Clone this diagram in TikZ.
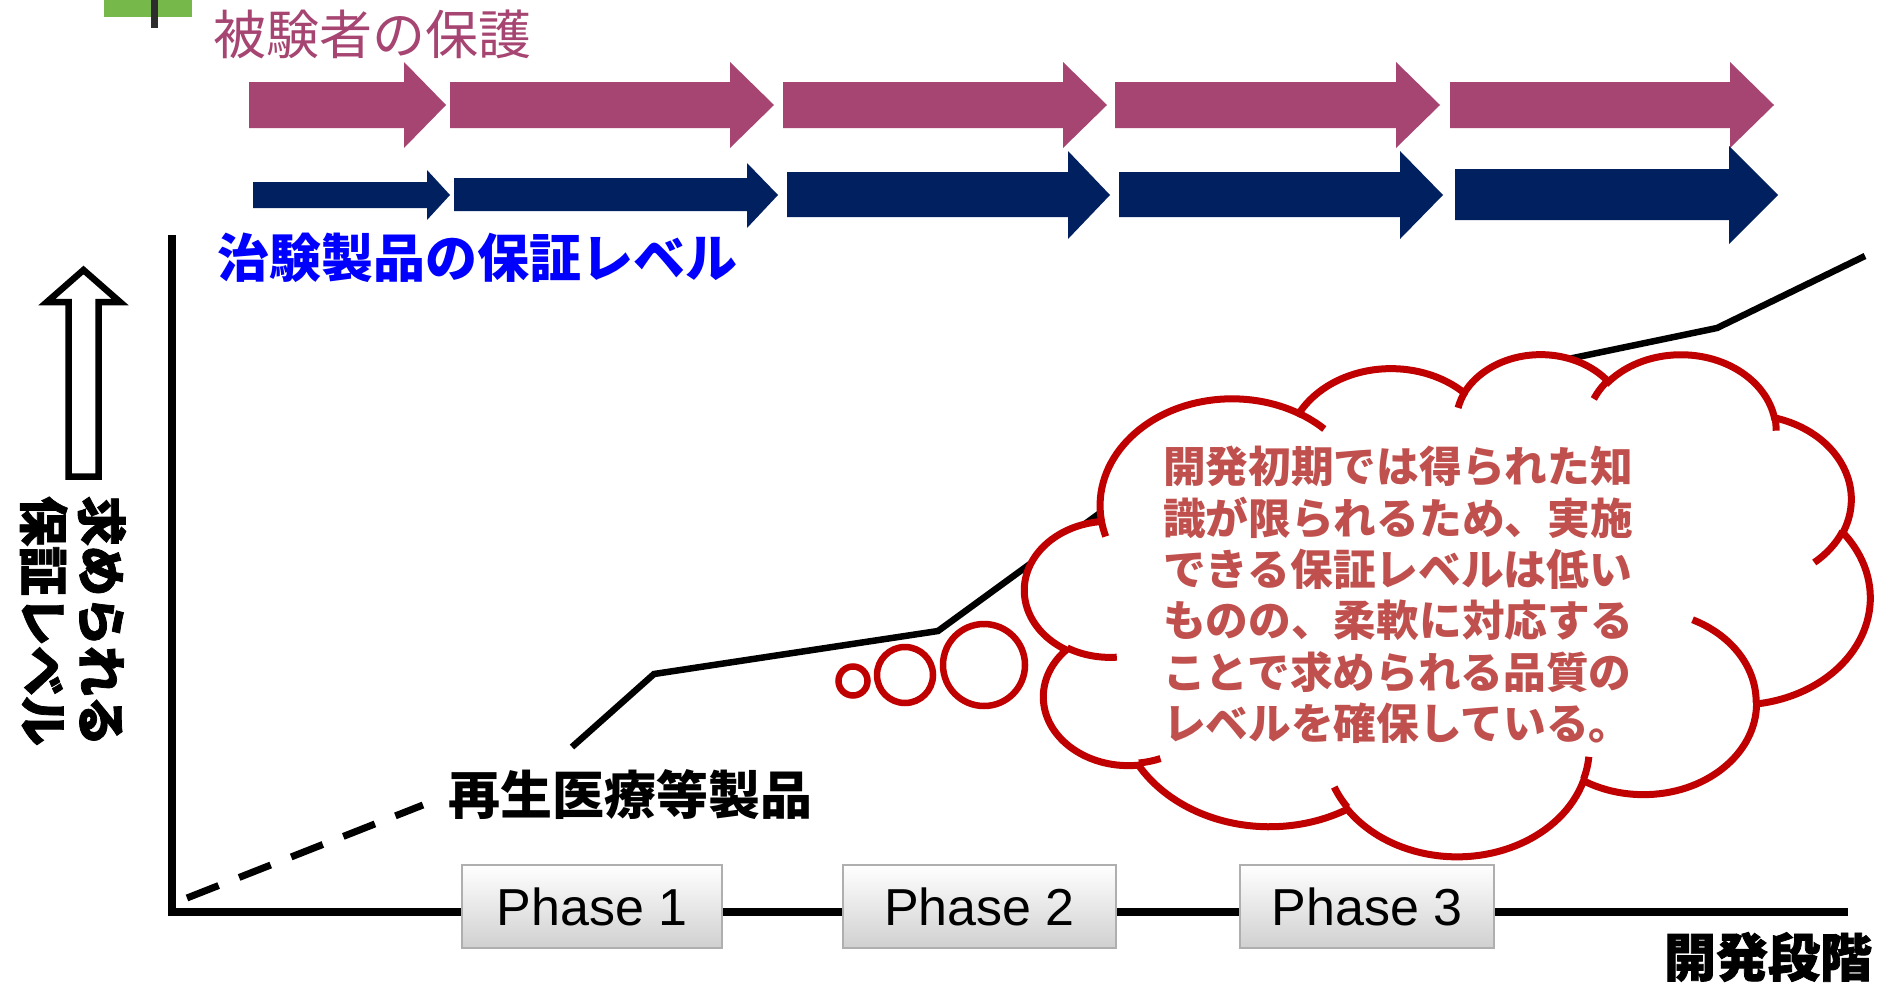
\documentclass[tikz,border=0pt]{standalone}
\usepackage{fontspec}
\setmainfont{Liberation Sans}
\newfontfamily\jp{Noto Sans CJK JP}
\newfontfamily\jpheavy{Noto Sans CJK JP}[BoldFeatures={FakeBold=1.5}]
\definecolor{plum}{RGB}{166,68,114}
\definecolor{navyc}{RGB}{0,32,96}
\definecolor{txtblue}{RGB}{0,0,255}
\definecolor{cloudred}{RGB}{192,0,0}
\definecolor{cloudtxt}{RGB}{192,80,77}
\definecolor{leafgreen}{RGB}{118,184,74}
\definecolor{bargray}{RGB}{45,45,45}
\definecolor{boxline}{RGB}{175,175,175}
\definecolor{boxbot}{RGB}{208,208,208}
\def\cX{1025}\def\cY{353}\def\cW{845}\def\cH{502}
\newcommand\ooarc[4]{arc[x radius={#1/432/100*\cW*1pt}, y radius={#2/432/100*\cH*1pt}, start angle={-atan2(#1/1000*sin(#3),#2/1000*cos(#3))}, delta angle={-mod(atan2(#1/1000*sin(#3+#4),#2/1000*cos(#3+#4))-atan2(#1/1000*sin(#3),#2/1000*cos(#3))+720,360)}]}
% point in OOXML path space, given in hundreds (0..432)
\newcommand\oopt[2]{({\cX+#1/432*\cW},{\cY+#2/432*\cH})}
\newcommand\fatarrow[9]{\fill[#9] (#1,#4) -- (#2,#4) -- (#2,#6) -- (#3,#8) -- (#2,#7) -- (#2,#5) -- (#1,#5) -- cycle;}
\begin{document}
\begin{tikzpicture}[x=1pt,y=-1pt,
  axisline/.style={line width=8pt, line join=miter},
  curveline/.style={line width=6.5pt, line join=miter},
  bubble/.style={draw=cloudred, line width=6.5pt, fill=white},
  cloudline/.style={draw=cloudred, line width=7pt},
  phasebox/.style={draw=boxline, line width=1.5pt, top color=white, bottom color=boxbot, minimum height=83pt, inner sep=0pt, font=\fontsize{52}{60}\selectfont}]
\useasboundingbox (0,0) rectangle (1888,985);
\fill[white] (0,0) rectangle (1888,985);
% top-left fragment
\fill[leafgreen] (104,0) rectangle (192,17);
\fill[bargray] (151,0) rectangle (158,28);
% titles
\node[font=\jp\fontsize{53}{60}\selectfont, text=plum, inner sep=0pt] (protect) at (372,34) {被験者の保護};
\node[font=\jp\bfseries\fontsize{52}{60}\selectfont, text=txtblue, inner sep=0pt] (quality) at (477,258) {治験製品の保証レベル};
% block arrows
\fatarrow{249}{404}{446}{82}{128}{62}{148}{105}{plum}
\fatarrow{450}{730}{774}{82}{128}{62}{148}{105}{plum}
\fatarrow{783}{1063}{1107}{82}{128}{62}{148}{105}{plum}
\fatarrow{1115}{1396}{1440}{82}{128}{62}{148}{105}{plum}
\fatarrow{1450}{1730}{1774}{82}{128}{62}{148}{105}{plum}
\fatarrow{253}{427}{450}{182}{208}{170}{220}{195}{navyc}
\fatarrow{454}{747}{778}{178}{211}{163}{228}{195}{navyc}
\fatarrow{787}{1068}{1110}{172}{217}{151}{239}{195}{navyc}
\fatarrow{1119}{1400}{1443}{172}{217}{151}{239}{195}{navyc}
\fatarrow{1455}{1729}{1778}{169}{220}{146}{244}{195}{navyc}
% hollow up arrow
\draw[line width=6.5pt, line join=miter, fill=white] (83.5,270) -- (120,302) -- (98.5,302) -- (98.5,476.5) -- (68.5,476.5) -- (68.5,302) -- (47,302) -- cycle;
\node[rotate=-90, font=\jpheavy\bfseries\fontsize{50}{58}\selectfont, align=left, inner sep=0pt] (ylabel) at (73,621) {求められる\\保証レベル};
% axes
\coordinate (ytop) at (172,235);
\coordinate (origin) at (172,912);
\coordinate (xend) at (1848,912);
\draw[axisline] (ytop) -- (origin) -- (xend);
\node[font=\jpheavy\bfseries\fontsize{52}{60}\selectfont, inner sep=0pt] (xlabel) at (1768,957) {開発段階};
% curve
\coordinate (d0) at (187,898);
\coordinate (d1) at (423,805);
\coordinate (c0) at (572,747);
\coordinate (c1) at (654,674);
\coordinate (c2) at (938,631);
\coordinate (c3) at (1100,513);
\coordinate (c4) at (1573,358);
\coordinate (c5) at (1717,328);
\coordinate (c6) at (1865,256);
\draw[curveline, line width=7pt, dash pattern=on 34pt off 22pt] (d0) -- (d1);
\draw[curveline] (c0) -- (c1) -- (c2) -- (c3) -- (c4) -- (c5) -- (c6);
\node[font=\jp\bfseries\fontsize{52}{60}\selectfont, inner sep=0pt] (prodlabel) at (630,795) {再生医療等製品};
% phase boxes
\node[phasebox, minimum width=260pt] (ph1) at (592,906.5) {Phase 1};
\node[phasebox, minimum width=273pt] (ph2) at (979.5,906.5) {Phase 2};
\node[phasebox, minimum width=254pt] (ph3) at (1367,906.5) {Phase 3};
% cloud callout
\draw[cloudline, fill=white] \oopt{39.00}{143.70}
  \ooarc{6753}{9190}{-190.4875}{123.7805}
  \ooarc{5333}{7267}{-144.1024}{89.9452}
  \ooarc{4365}{5945}{-145.8079}{99.7230}
  \ooarc{4857}{6595}{-130.9861}{117.2417}
  \ooarc{5333}{7273}{-78.7089}{109.0269}
  \ooarc{6775}{9220}{-46.2673}{130.2690}
  \ooarc{5785}{7867}{0.6250}{114.0333}
  \ooarc{6752}{9215}{22.4516}{115.1726}
  \ooarc{7720}{10543}{66.2426}{75.7110}
  \ooarc{4360}{5918}{-274.9421}{146.7356}
  \ooarc{4345}{5945}{-246.8285}{152.5189} -- cycle;
\draw[cloudline]
  \oopt{46.93}{261.77} \ooarc{4345}{5945}{86.7420}{26.4295}
  \oopt{69.28}{348.99} \ooarc{4360}{5918}{73.6105}{11.4475}
  \oopt{164.78}{390.90} \ooarc{6752}{9215}{137.6242}{14.0811}
  \oopt{288.27}{347.51} \ooarc{6752}{9215}{6.4533}{15.9984}
  \oopt{341.29}{229.54} \ooarc{5785}{7867}{-70.2924}{70.9174}
  \oopt{417.98}{153.54} \ooarc{5333}{7273}{30.3180}{27.7515}
  \oopt{383.24}{54.26} \ooarc{4857}{6595}{-13.7443}{14.8589}
  \oopt{290.78}{39.52} \ooarc{4857}{6595}{-149.1815}{18.1954}
  \oopt{221.41}{47.20} \ooarc{4365}{5945}{-163.4943}{17.6864}
  \oopt{140.00}{51.92} \ooarc{6753}{9190}{-66.7070}{12.3194}
  \oopt{41.27}{157.89} \ooarc{6753}{9190}{157.6544}{11.8582};
\draw[bubble] (853,681) circle[radius=14.5pt];
\draw[bubble] (905,675) circle[radius=28pt];
\draw[bubble] (984,665) circle[radius=41pt];
\node[font=\jp\bfseries\fontsize{42.7}{51.4}\selectfont, text=cloudtxt, align=left, inner sep=0pt] (note) at (1398,595) {開発初期では得られた知\\識が限られるため、実施\\できる保証レベルは低い\\ものの、柔軟に対応する\\ことで求められる品質の\\レベルを確保している。};
\end{tikzpicture}
\end{document}
